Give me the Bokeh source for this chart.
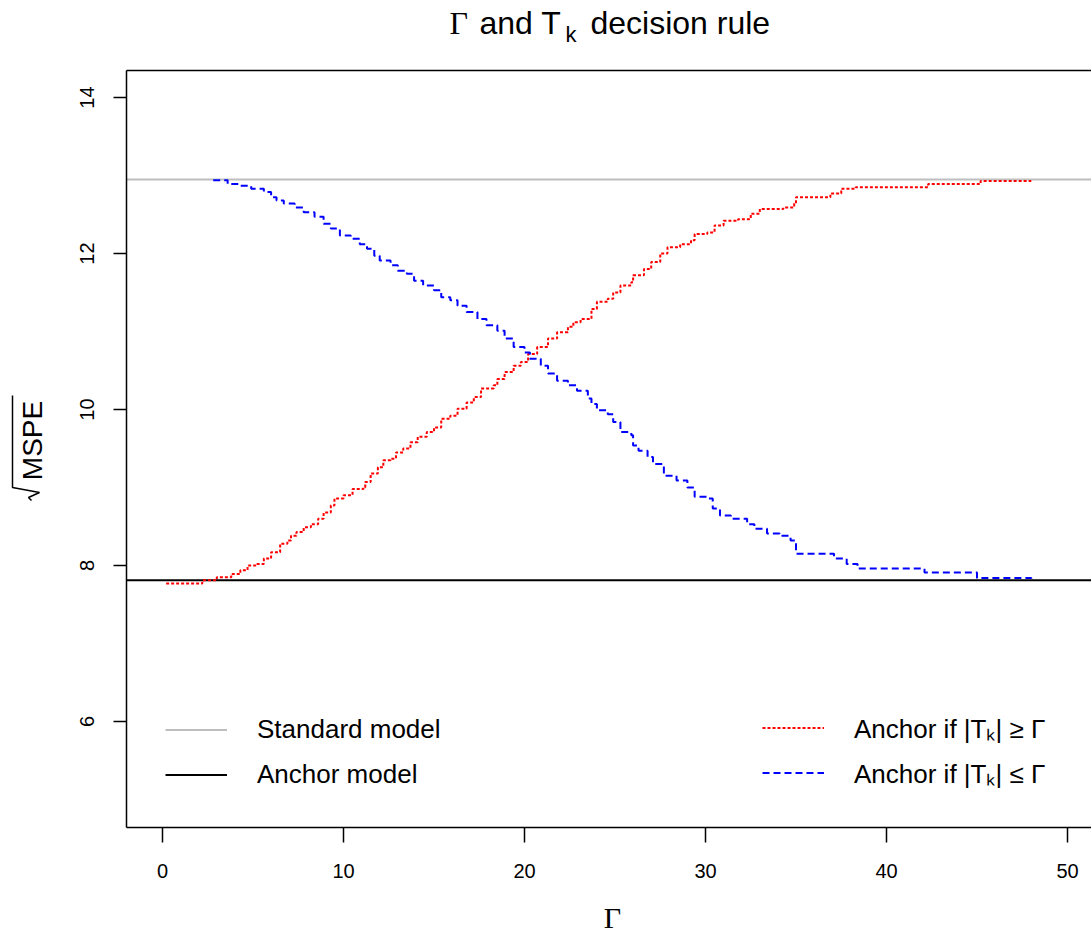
import math
from bokeh.plotting import figure
from bokeh.layouts import column, row
from bokeh.models import Range1d, LinearAxis, FixedTicker, Legend, LegendItem
from bokeh.core.properties import value
from bokeh.embed import file_html
from bokeh.resources import INLINE

# ---------------- data ----------------
standard_model = 12.95
anchor_model = 7.81

red_x = [0.2, 2.2, 3.0, 3.8, 4.3, 4.7, 5.2, 5.6, 6.0, 6.5, 6.9, 7.1, 7.4, 7.8, 8.2, 8.6, 8.9, 9.3, 9.5,
         10.0, 10.5, 11.1, 11.2, 11.5, 11.9, 12.2, 12.6, 12.9, 13.3, 13.7, 14.1, 14.6, 15.0, 15.4, 15.9,
         16.3, 16.8, 17.2, 17.6, 18.3, 18.5, 18.9, 19.4, 19.8, 20.2, 20.7, 21.3, 21.8, 22.4, 22.7, 23.1,
         23.7, 24.0, 24.6, 24.9, 25.3, 25.9, 26.0, 26.6, 27.0, 27.5, 27.9, 28.6, 29.2, 29.4, 30.1, 30.5,
         31.0, 31.8, 32.5, 33.0, 34.3, 34.9, 35.0, 36.9, 37.5, 38.3, 42.3, 45.2, 48.0]
red_y = [7.77, 7.81, 7.85, 7.89, 7.94, 8.00, 8.02, 8.09, 8.17, 8.28, 8.32, 8.38, 8.43, 8.49, 8.53, 8.60, 8.68, 8.77, 8.86,
         8.90, 8.98, 9.00, 9.07, 9.18, 9.26, 9.35, 9.37, 9.45, 9.50, 9.58, 9.65, 9.71, 9.77, 9.88, 9.92,
         10.01, 10.09, 10.16, 10.27, 10.31, 10.39, 10.48, 10.56, 10.61, 10.71, 10.80, 10.91, 10.99, 11.06, 11.12, 11.16,
         11.29, 11.38, 11.42, 11.50, 11.59, 11.63, 11.72, 11.80, 11.89, 12.00, 12.08, 12.12, 12.17, 12.25, 12.27, 12.36,
         12.42, 12.44, 12.51, 12.57, 12.59, 12.64, 12.72, 12.77, 12.83, 12.85, 12.89, 12.93, 12.93]

blue_x = [2.8, 3.6, 4.3, 4.9, 5.6, 6.0, 6.3, 6.7, 7.3, 7.8, 8.4, 8.9, 9.3, 9.8, 10.4, 10.9, 11.3, 11.7, 12.0,
          12.6, 13.0, 13.5, 13.9, 14.4, 15.0, 15.4, 15.9, 16.3, 16.8, 17.4, 17.9, 18.5, 18.9, 19.4, 20.0,
          20.3, 20.9, 21.3, 21.8, 22.4, 22.9, 23.5, 23.7, 24.0, 24.6, 24.9, 25.3, 25.9, 26.0, 26.3, 26.8,
          27.1, 27.7, 28.4, 29.0, 29.4, 30.1, 30.4, 30.8, 31.4, 32.3, 32.7, 33.4, 34.1, 34.7, 35.0, 37.1,
          37.8, 38.4, 42.1, 45.0, 48.0]
blue_y = [12.94, 12.89, 12.87, 12.83, 12.79, 12.72, 12.68, 12.64, 12.59, 12.53, 12.47, 12.38, 12.32, 12.23, 12.19, 12.12, 12.06, 11.97, 11.91,
          11.85, 11.78, 11.74, 11.65, 11.59, 11.53, 11.44, 11.40, 11.33, 11.25, 11.16, 11.08, 11.01, 10.91, 10.80, 10.73,
          10.65, 10.56, 10.46, 10.37, 10.31, 10.24, 10.14, 10.07, 9.99, 9.94, 9.84, 9.71, 9.67, 9.54, 9.47, 9.39,
          9.30, 9.15, 9.09, 9.00, 8.88, 8.86, 8.73, 8.64, 8.60, 8.53, 8.47, 8.41, 8.38, 8.32, 8.15, 8.09,
          8.02, 7.96, 7.91, 7.84, 7.83]

x_ticks = [0, 10, 20, 30, 40, 50]
y_ticks = [6, 8, 10, 12, 14]

legend_left_labels = ["Standard model", "Anchor model"]
legend_right_labels = ["Anchor if |T\u2096| \u2265 \u0393", "Anchor if |T\u2096| \u2264 \u0393"]

title_parts = ["\u0393", "and T", "k", "decision rule"]
y_label = "MSPE"
x_label = "\u0393"

SANS = "Liberation Sans"
SERIF = "Liberation Serif"

# ---------------- page geometry (pixels) ----------------
W, H = 1091, 937
TITLE_H = 62          # title strip
MID_BOTTOM = 897      # bottom of middle row
YLAB_W = 60           # y-label strip
FRAME_L, FRAME_T, FRAME_B = 126, 70, 827
BASE_SHIFT = 0.355    # empirical alphabetic-baseline correction (in em)


def dx(px):
    return (px - 162) / 18.1


def dy(py):
    return 14 - (py - 97) / 78.0


def strip(width, height, left, top, fr_top=None, fr_bottom=None):
    bt = 0 if fr_top is None else fr_top - top
    bb = 0 if fr_bottom is None else (top + height) - fr_bottom
    y0 = top + height - bb
    y1 = top + bt
    f = figure(width=width, height=height,
               x_range=Range1d(left, left + width), y_range=Range1d(-y0, -y1),
               output_backend="svg", toolbar_location=None,
               x_axis_location=None, y_axis_location=None,
               min_border=0, min_border_left=0, min_border_right=0,
               min_border_top=bt, min_border_bottom=bb)
    f.grid.visible = False
    f.outline_line_color = None
    f.background_fill_color = None
    f.border_fill_color = "white"
    return f


def base(py, size):
    return -(py - BASE_SHIFT * size)


# ---------------- title strip ----------------
tfig = strip(W, TITLE_H, 0, 0)
tfig.text(x=[449], y=[base(34, 32)], text=[title_parts[0]], text_font=value(SERIF), text_font_size=value("32px"),
          text_align="left", text_baseline="alphabetic", text_color="black")
tfig.text(x=[479], y=[base(34, 32)], text=[title_parts[1]], text_font=value(SANS), text_font_size=value("32px"),
          text_align="left", text_baseline="alphabetic", text_color="black")
tfig.text(x=[565], y=[base(42, 22)], text=[title_parts[2]], text_font=value(SANS), text_font_size=value("22px"),
          text_align="left", text_baseline="alphabetic", text_color="black")
tfig.text(x=[590], y=[base(34, 32)], text=[title_parts[3]], text_font=value(SANS), text_font_size=value("32px"),
          text_align="left", text_baseline="alphabetic", text_color="black")

# ---------------- y-label strip (frame aligned with the main plot frame) ----------------
yfig = strip(YLAB_W, MID_BOTTOM - TITLE_H, 0, TITLE_H, fr_top=FRAME_T, fr_bottom=FRAME_B)
yfig.text(x=[42 - BASE_SHIFT * 28], y=[-440], text=[y_label], angle=math.pi / 2, text_font=value(SANS),
          text_font_size=value("28px"), text_align="center", text_baseline="alphabetic", text_color="black")
# radical sign (rotated) drawn as a stroke
yfig.line(x=[31, 28, 39, 12, 12], y=[-500, -497, -492, -487, -395], line_color="black", line_width=1.5)

# ---------------- x-label strip ----------------
xfig = strip(W, H - MID_BOTTOM, 0, MID_BOTTOM)
xfig.text(x=[612], y=[base(928, 30)], text=[x_label], text_font=value(SERIF), text_font_size=value("30px"),
          text_align="center", text_baseline="alphabetic", text_color="black")

# ---------------- main plot ----------------
p = figure(width=W - YLAB_W, height=MID_BOTTOM - TITLE_H,
           x_range=Range1d(dx(FRAME_L), dx(W)), y_range=Range1d(dy(FRAME_B), dy(FRAME_T)),
           output_backend="svg", toolbar_location=None,
           min_border_left=FRAME_L - YLAB_W, min_border_right=0,
           min_border_top=FRAME_T - TITLE_H, min_border_bottom=MID_BOTTOM - FRAME_B)
p.grid.visible = False
p.outline_line_color = None
p.background_fill_color = "white"
p.border_fill_color = "white"

for ax in p.xaxis:
    ax.ticker = FixedTicker(ticks=x_ticks)
    ax.minor_tick_line_color = None
    ax.major_tick_in = 0
    ax.major_tick_out = 15
    ax.major_label_standoff = 21
    ax.major_label_text_font = SANS
    ax.major_label_text_font_size = "20px"
    ax.major_label_text_color = "black"
    ax.axis_line_width = 1.5
    ax.major_tick_line_width = 1.5
for ax in p.yaxis:
    ax.ticker = FixedTicker(ticks=y_ticks)
    ax.minor_tick_line_color = None
    ax.major_tick_in = 0
    ax.major_tick_out = 13
    ax.major_label_standoff = 20
    ax.major_label_orientation = "vertical"
    ax.major_label_text_font = SANS
    ax.major_label_text_font_size = "20px"
    ax.major_label_text_color = "black"
    ax.axis_line_width = 1.5
    ax.major_tick_line_width = 1.5

top = LinearAxis(ticker=FixedTicker(ticks=[]), major_tick_out=0, major_tick_in=0,
                 minor_tick_out=0, minor_tick_in=0, major_label_standoff=0,
                 major_tick_line_color=None, minor_tick_line_color=None, axis_line_width=1.5)
p.add_layout(top, "above")

xr = [p.x_range.start, p.x_range.end]
std_line = p.line(xr, [standard_model, standard_model], line_color="#BEBEBE", line_width=2)
anc_line = p.line(xr, [anchor_model, anchor_model], line_color="black", line_width=2)

red = p.step(red_x, red_y, mode="after", line_color="#FF0000", line_width=2, line_dash="3 2")
blue = p.step(blue_x, blue_y, mode="after", line_color="#0000FF", line_width=2, line_dash="7 4")


def make_legend(items, loc):
    lg = Legend(items=items, location=loc, orientation="vertical",
                border_line_color=None, background_fill_alpha=0, padding=0, margin=0, spacing=0,
                glyph_width=62, glyph_height=45, label_height=45, label_standoff=30,
                label_text_font=SANS, label_text_font_size="26px", label_text_color="black")
    p.add_layout(lg, "center")


make_legend([LegendItem(label=legend_left_labels[0], renderers=[std_line]),
             LegendItem(label=legend_left_labels[1], renderers=[anc_line])], (39, 30))
make_legend([LegendItem(label=legend_right_labels[0], renderers=[red]),
             LegendItem(label=legend_right_labels[1], renderers=[blue])], (636, 32))

layout = column(tfig, row(yfig, p), xfig)
open("out.html", "w").write(file_html(layout, INLINE))
